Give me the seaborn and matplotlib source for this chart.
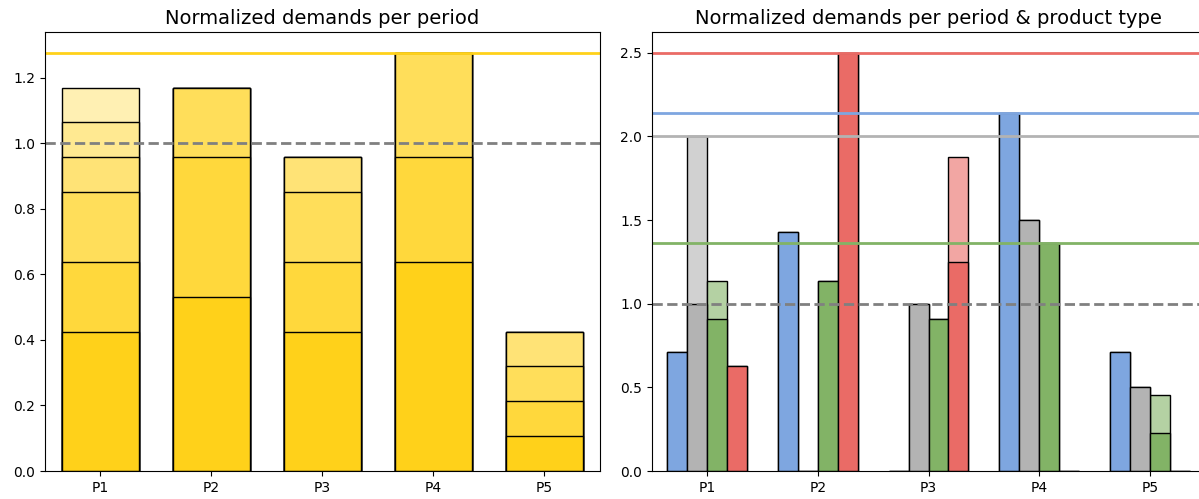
import numpy as np
import pandas as pd
import matplotlib
matplotlib.use("Agg")
import matplotlib.pyplot as plt
import seaborn as sns
from matplotlib.colors import to_rgb

# ---------------------------------------------------------
# DATA
# ---------------------------------------------------------
periods = ["P1", "P2", "P3", "P4", "P5"]

# left plot: normalized demand per stacked layer (bottom -> top)
layer_1 = [0.4255, 0.5319, 0.4255, 0.6383, 0.1064]
layer_2 = [0.2128, 0.4255, 0.2128, 0.3191, 0.1064]
layer_3 = [0.2128, 0.2128, 0.2128, 0.3191, 0.1064]
layer_4 = [0.1064, 0.0, 0.1064, 0.0, 0.1064]
layer_5 = [0.1064, 0.0, 0.0, 0.0, 0.0]
layer_6 = [0.1064, 0.0, 0.0, 0.0, 0.0]
layers = [layer_1, layer_2, layer_3, layer_4, layer_5, layer_6]

# right plot: normalized demand per product type (base + extra part)
types = ["blue", "gray", "green", "red"]
base_blue = [0.714, 1.429, 0.0, 2.143, 0.714]
base_gray = [1.0, 0.0, 1.0, 1.5, 0.5]
base_green = [0.909, 1.136, 0.909, 1.364, 0.227]
base_red = [0.625, 2.5, 1.25, 0.0, 0.0]
extra_blue = [0.0, 0.0, 0.0, 0.0, 0.0]
extra_gray = [1.0, 0.0, 0.0, 0.0, 0.0]
extra_green = [0.227, 0.0, 0.0, 0.0, 0.227]
extra_red = [0.0, 0.0, 0.625, 0.0, 0.0]

# ---------------------------------------------------------
# COLORS
# ---------------------------------------------------------
def fade(color, alpha):
    c = np.array(to_rgb(color))
    return tuple(1 - (1 - c) * alpha)

yellow = "#FFD11A"
layer_alphas = [1.0, 0.85, 0.72, 0.6, 0.48, 0.33]
type_colors = {"blue": "#7EA6E0", "gray": "#B3B3B3", "green": "#82B366", "red": "#EA6B66"}
type_light = {k: fade(v, 0.6) for k, v in type_colors.items()}

# ---------------------------------------------------------
# FIGURE
# ---------------------------------------------------------
fig = plt.figure(figsize=(11.99, 4.99), dpi=100)
ax1 = fig.add_axes([0.0375, 0.0561, 0.4629, 0.880])
ax2 = fig.add_axes([0.5438, 0.0561, 0.4612, 0.880])

# left: cumulative bars drawn from top layer down
cum = np.cumsum(np.array(layers), axis=0)
for i in range(len(layers) - 1, -1, -1):
    df_l = pd.DataFrame({"period": periods, "value": cum[i]})
    sns.barplot(data=df_l, x="period", y="value", color=fade(yellow, layer_alphas[i]),
                saturation=1, width=0.7, edgecolor="black", linewidth=1,
                errorbar=None, ax=ax1)

ax1.axhline(cum[-1].max(), color=yellow, lw=2)
ax1.axhline(1.0, color="gray", lw=2, ls="--")
ax1.set_title("Normalized demands per period", fontsize=14)
ax1.set_xlabel("")
ax1.set_ylabel("")

# right: grouped bars per product type
base = {"blue": base_blue, "gray": base_gray, "green": base_green, "red": base_red}
extra = {"blue": extra_blue, "gray": extra_gray, "green": extra_green, "red": extra_red}
rows = []
for t in types:
    for p, b, e in zip(periods, base[t], extra[t]):
        rows.append({"period": p, "type": t, "base": b, "total": b + e})
df_r = pd.DataFrame(rows)

sns.barplot(data=df_r, x="period", y="total", hue="type", hue_order=types,
            palette=type_light, saturation=1, width=0.72, edgecolor="black",
            linewidth=1, errorbar=None, legend=False, ax=ax2)
sns.barplot(data=df_r, x="period", y="base", hue="type", hue_order=types,
            palette=type_colors, saturation=1, width=0.72, edgecolor="black",
            linewidth=1, errorbar=None, legend=False, ax=ax2)

for t in types:
    ax2.axhline(df_r.loc[df_r["type"] == t, "total"].max(), color=type_colors[t], lw=2)
ax2.axhline(1.0, color="gray", lw=2, ls="--")
ax2.set_title("Normalized demands per period & product type", fontsize=14)
ax2.set_xlabel("")
ax2.set_ylabel("")

fig.savefig("out.png", dpi=100)
